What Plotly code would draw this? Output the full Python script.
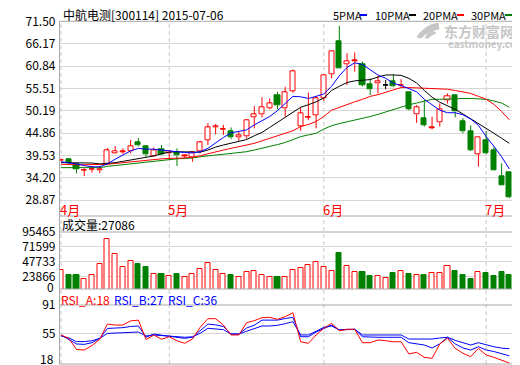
import plotly.graph_objects as go

# ---------------- data ----------------
title_text = "中航电测[300114] 2015-07-06"
month_labels = ["4月", "5月", "6月", "7月"]
month_start = [0, 14, 34, 55]
legend_labels = ["5PMA", "10PMA", "20PMA", "30PMA"]

opens = [38.30, 38.59, 37.40, 35.95, 36.15, 36.00, 37.47, 40.02, 40.35, 40.40,
         42.70, 41.60, 39.40, 40.98, 40.00, 40.25, 39.33, 39.07, 40.40, 43.20,
         46.30, 45.70, 45.17, 43.80, 44.00, 48.60, 49.30, 50.75, 53.85, 50.75,
         54.88, 46.53, 48.55, 49.15, 53.14, 58.86, 66.80, 61.25, 62.05, 61.30,
         56.55, 56.70, 56.30, 57.10, 56.25, 54.47, 49.30, 48.37, 46.08, 47.40,
         52.70, 53.90, 47.70, 45.30, 39.85, 43.20, 40.64, 34.60, 35.50]
highs = [38.65, 38.80, 37.63, 36.45, 37.06, 37.00, 41.28, 41.76, 41.20, 43.20,
         43.67, 42.00, 41.40, 42.00, 40.80, 41.20, 39.70, 40.40, 43.00, 47.20,
         47.00, 46.80, 46.20, 45.10, 48.20, 51.30, 53.40, 53.10, 54.70, 55.90,
         60.00, 51.00, 54.50, 53.70, 58.80, 64.30, 70.40, 63.90, 64.10, 61.90,
         57.90, 58.45, 57.50, 58.90, 57.70, 54.50, 51.50, 52.70, 48.75, 51.90,
         54.30, 53.95, 48.40, 46.70, 43.80, 45.30, 41.60, 37.60, 35.50]
lows = [38.15, 37.20, 35.25, 34.60, 35.40, 35.30, 37.20, 39.97, 39.85, 40.02,
        41.60, 39.20, 39.20, 39.60, 38.60, 37.00, 38.90, 38.00, 40.00, 42.00,
        44.55, 44.40, 43.40, 43.00, 43.50, 46.00, 48.60, 50.50, 50.50, 48.75,
        54.50, 45.40, 47.90, 46.00, 52.50, 57.90, 60.30, 56.30, 59.50, 56.00,
        53.90, 54.30, 55.30, 55.75, 55.75, 50.30, 47.30, 46.40, 45.75, 46.40,
        51.90, 48.60, 44.80, 40.55, 36.83, 39.80, 36.00, 32.46, 29.30]
closes = [38.45, 37.63, 36.20, 36.05, 36.25, 36.30, 40.73, 40.57, 40.45, 41.76,
          41.83, 39.78, 40.70, 39.85, 40.50, 39.45, 39.43, 40.25, 42.65, 46.22,
          46.50, 45.80, 43.83, 44.20, 47.96, 49.30, 51.10, 51.94, 51.53, 54.64,
          59.65, 49.56, 48.65, 53.14, 58.70, 64.25, 60.30, 62.00, 62.15, 56.30,
          55.30, 57.20, 56.30, 55.90, 56.35, 50.60, 51.10, 46.80, 46.18, 50.50,
          53.70, 49.94, 45.17, 40.80, 43.75, 40.02, 36.00, 32.46, 29.53]
volumes = [35300, 26500, 26500, 19700, 26500, 44600, 83500, 60000, 40000, 49300,
           43600, 38900, 27500, 28000, 24400, 28000, 22800, 27500, 36800, 46200,
           35300, 27500, 26500, 22800, 32000, 33700, 26000, 22800, 23300, 22800,
           35300, 38400, 43100, 47700, 40000, 33700, 62300, 41500, 32200, 32200,
           24900, 24400, 21300, 29600, 33700, 28000, 26000, 26000, 29100, 29100,
           41500, 33700, 26000, 19700, 32200, 29600, 24900, 31100, 27086]
ma5 = [38.0, 37.8, 37.5, 37.1, 36.8, 36.8, 37.5, 38.6, 39.6, 40.6,
       41.2, 41.0, 41.0, 40.8, 40.5, 40.4, 40.2, 40.1, 40.4, 41.2,
       42.6, 43.8, 44.9, 45.3, 45.6, 46.8, 47.8, 48.8, 50.2, 51.8,
       53.6, 53.5, 53.1, 53.6, 54.2, 56.0, 58.5, 60.5, 61.6, 61.2,
       59.9, 58.7, 57.9, 56.7, 56.2, 55.4, 54.7, 52.9, 51.7, 50.3,
       49.7, 49.7, 49.2, 48.2, 46.7, 44.0, 41.7, 39.2, 36.3]
ma10 = [37.8, 37.8, 37.8, 37.8, 37.7, 37.5, 37.6, 37.8, 38.1, 38.4,
        38.7, 39.0, 39.4, 39.9, 40.3, 40.4, 40.4, 40.3, 40.3, 40.8,
        41.5, 42.0, 42.4, 42.8, 43.3, 44.2, 45.0, 46.2, 47.4, 48.8,
        49.9, 51.0, 51.6, 52.3, 53.2, 55.0, 56.0, 56.9, 57.3, 57.5,
        57.6, 58.2, 58.7, 58.7, 58.6, 57.9, 56.8, 55.0, 53.4, 52.2,
        51.4, 50.5, 49.4, 48.3, 47.2, 46.1, 44.8, 43.6, 42.4]
ma20 = [37.4, 37.3, 37.3, 37.3, 37.3, 37.3, 37.4, 37.6, 37.8, 38.0,
        38.2, 38.4, 38.6, 38.7, 38.8, 38.8, 38.9, 39.1, 39.4, 39.9,
        40.4, 40.8, 41.2, 41.6, 41.9, 42.4, 43.0, 43.6, 44.3, 44.8,
        45.4, 46.4, 46.9, 47.6, 48.8, 50.3, 51.0, 51.6, 52.3, 52.9,
        53.6, 54.0, 54.6, 55.2, 55.7, 55.7, 55.6, 55.5, 55.4, 55.4,
        55.3, 55.0, 54.7, 54.3, 53.6, 52.9, 51.7, 50.0, 48.0]
ma30 = [36.6, 36.6, 36.6, 36.6, 36.6, 36.6, 36.9, 37.1, 37.4, 37.6,
        37.7, 37.9, 38.1, 38.3, 38.6, 38.7, 38.8, 38.9, 39.2, 39.4,
        39.6, 39.8, 40.0, 40.2, 40.4, 40.8, 41.2, 41.6, 42.1, 42.6,
        43.3, 44.0, 44.4, 44.8, 45.8, 46.6, 47.1, 47.5, 47.9, 48.4,
        48.8, 49.3, 49.9, 50.4, 51.0, 51.6, 52.0, 52.5, 52.9, 52.9,
        53.0, 53.1, 53.1, 53.1, 53.0, 52.9, 52.5, 52.0, 51.0]
rsi_a = [53.3, 49.0, 35.0, 34.4, 40.0, 47.8, 67.0, 65.8, 65.8, 71.0,
         72.0, 47.5, 53.3, 48.0, 51.0, 46.0, 42.8, 48.2, 62.9, 73.8,
         73.8, 65.8, 53.3, 53.3, 68.7, 71.3, 75.0, 75.5, 73.0, 76.3,
         81.3, 44.8, 42.8, 53.3, 61.7, 68.0, 58.7, 60.4, 60.4, 43.6,
         43.6, 47.0, 46.1, 44.8, 44.8, 29.4, 31.5, 25.2, 23.9, 42.0,
         49.1, 36.5, 30.2, 26.0, 36.5, 28.1, 25.2, 21.8, 18.0]
rsi_b = [53.3, 48.0, 42.0, 41.5, 43.6, 49.0, 61.5, 62.0, 62.5, 64.0,
         64.6, 50.5, 54.5, 53.0, 52.0, 50.5, 49.1, 50.4, 58.3, 67.0,
         66.0, 64.0, 54.5, 54.5, 62.0, 65.5, 72.0, 72.0, 72.0, 74.0,
         75.5, 51.1, 51.1, 57.0, 61.7, 65.8, 59.6, 60.4, 60.4, 51.1,
         50.4, 50.4, 50.4, 50.4, 50.4, 43.6, 42.0, 40.7, 37.0, 42.0,
         50.4, 42.0, 37.0, 34.4, 38.6, 34.4, 32.5, 30.0, 27.0]
rsi_c = [52.0, 49.5, 45.0, 45.0, 46.0, 49.0, 55.3, 55.6, 56.0, 56.6,
         57.0, 52.0, 53.3, 52.6, 52.0, 51.0, 50.4, 51.0, 55.4, 61.7,
         61.0, 60.0, 54.5, 54.5, 58.0, 61.0, 64.6, 64.6, 65.5, 67.5,
         70.0, 53.3, 53.3, 58.0, 62.9, 64.6, 59.6, 60.4, 60.4, 53.3,
         53.3, 53.3, 53.3, 53.3, 53.3, 48.2, 48.2, 48.2, 48.2, 49.5,
         50.4, 46.5, 43.5, 40.7, 43.6, 40.7, 38.5, 36.8, 36.0]
price_ticks = [28.87, 34.20, 39.53, 44.86, 50.19, 55.51, 60.84, 66.17, 71.50]
volume_ticks = [23866, 47733, 71599, 95465]
rsi_ticks = [55, 91]

# ---------------- styling helpers ----------------
# the page body has an 8px margin, so the figure is drawn 8px smaller and
# all layout positions below are given in window pixels minus that offset
OFF = 8
W, H = 520 - OFF, 365 - OFF
RED, GREEN, BLUE, BLACK = "#ff0000", "#008000", "#0000ff", "#000000"
GRID, FRAME = "#d6d6d6", "#a8a8a8"
FONT = "Noto Sans CJK SC"
WM = "#c6c6c6"


def px(x):
    return (x - OFF) / W


def py(y):
    return 1 - (y - OFF) / H


n = len(closes)
xs = list(range(n))
kind = ["up" if c > o else ("down" if c < o else "flat") for o, c in zip(opens, closes)]
kcol = {"up": RED, "down": GREEN, "flat": BLACK}
kfill = {"up": "#ffffff", "down": GREEN, "flat": BLACK}

fig = go.Figure()

# candle bodies
for k in ["up", "down", "flat"]:
    idx = [i for i in xs if kind[i] == k]
    if not idx:
        continue
    fig.add_bar(x=idx, y=[abs(closes[i] - opens[i]) for i in idx],
                base=[min(opens[i], closes[i]) for i in idx], width=0.66,
                marker=dict(color=kfill[k], line=dict(color=kcol[k], width=1)),
                xaxis="x", yaxis="y", hoverinfo="skip")

# wicks (upper and lower parts) + doji bars
for k in ["up", "down", "flat"]:
    wx, wy = [], []
    for i in xs:
        if kind[i] != k:
            continue
        top, bot = max(opens[i], closes[i]), min(opens[i], closes[i])
        wx += [i, i, None, i, i, None]
        wy += [highs[i], top, None, bot, lows[i], None]
        if top - bot < 0.2:
            wx += [i - 0.33, i + 0.33, None]
            wy += [closes[i], closes[i], None]
    if wx:
        fig.add_scatter(x=wx, y=wy, mode="lines", line=dict(color=kcol[k], width=1),
                        xaxis="x", yaxis="y", hoverinfo="skip")

# moving averages
for arr, c in [(ma30, GREEN), (ma20, RED), (ma10, BLACK), (ma5, BLUE)]:
    fig.add_scatter(x=xs, y=arr, mode="lines", line=dict(color=c, width=1),
                    xaxis="x", yaxis="y", hoverinfo="skip")

# volume
for k in ["up", "down"]:
    idx = [i for i in xs if (kind[i] == "down") == (k == "down")]
    fig.add_bar(x=idx, y=[volumes[i] for i in idx], width=0.66,
                marker=dict(color=kfill[k], line=dict(color=kcol[k], width=1)),
                xaxis="x", yaxis="y2", hoverinfo="skip")

# RSI
for arr, c in [(rsi_c, BLUE), (rsi_b, BLUE), (rsi_a, RED)]:
    fig.add_scatter(x=xs, y=arr, mode="lines", line=dict(color=c, width=1),
                    xaxis="x", yaxis="y3", hoverinfo="skip")

tickfont = dict(family=FONT, size=12, color=BLACK)
common_y = dict(showgrid=True, gridcolor=GRID, gridwidth=1, zeroline=False,
                ticks="", tickfont=tickfont, anchor="x", showline=False,
                ticklabelstandoff=3, automargin=False)

fig.update_layout(
    width=W, height=H, margin=dict(l=0, r=0, t=0, b=0, autoexpand=False),
    paper_bgcolor="white", plot_bgcolor="white", showlegend=False,
    barmode="overlay", bargap=0,
    xaxis=dict(domain=[px(59.5), px(519)], range=[-0.2, 59.25], showgrid=False,
               zeroline=False, showticklabels=False, ticks="", showline=False,
               automargin=False),
    yaxis=dict(domain=[py(216), py(21.3)], range=[25.07, 71.5],
               tickvals=price_ticks, ticktext=[f"{v:.2f}" for v in price_ticks], **common_y),
    yaxis2=dict(domain=[py(289), py(232)], range=[4200, 95465],
                tickvals=volume_ticks, ticktext=[str(v) for v in volume_ticks], **common_y),
    yaxis3=dict(domain=[py(364), py(305)], range=[16.8, 91],
                tickvals=rsi_ticks, ticktext=[str(v) for v in rsi_ticks], **common_y),
)


def ppath(points):
    """SVG path in paper coordinates from window-pixel points."""
    cmds = []
    for cmd, pts in points:
        cmds.append(cmd + " ".join(f"{px(x):.4f},{py(y):.4f}" for x, y in pts))
    return " ".join(cmds) + " Z"


shapes = []
# month dashed lines
for m in month_start:
    shapes.append(dict(type="line", xref="x", yref="paper", x0=m, x1=m,
                       y0=py(364), y1=py(21.3), layer="below",
                       line=dict(color="#c8c8c8", width=1, dash="4px,3px")))
# frame
for y in [21.3, 216, 232, 289, 305, 364]:
    shapes.append(dict(type="line", xref="paper", yref="paper", x0=px(59.5), x1=px(519),
                       y0=py(y), y1=py(y), line=dict(color=FRAME, width=1)))
for x in [59.5, 519]:
    shapes.append(dict(type="line", xref="paper", yref="paper", x0=px(x), x1=px(x),
                       y0=py(364), y1=py(21.3), line=dict(color=FRAME, width=1)))
# legend swatches
for (x0, x1), c in zip([(360, 367), (409, 416), (457, 464), (505, 512)],
                       [BLUE, BLACK, RED, GREEN]):
    shapes.append(dict(type="line", xref="paper", yref="paper", x0=px(x0), x1=px(x1),
                       y0=py(15), y1=py(15), line=dict(color=c, width=2)))
# watermark swoosh logo
shapes.append(dict(type="path", xref="paper", yref="paper", layer="below",
                   path=ppath([("M", [(438, 23)]), ("Q", [(425, 25), (417, 37)]),
                               ("L", [(421, 38)]), ("Q", [(428, 31), (439, 29)])]),
                   fillcolor=WM, line=dict(color=WM, width=1)))
shapes.append(dict(type="path", xref="paper", yref="paper", layer="below",
                   path=ppath([("M", [(432, 31)]), ("Q", [(428, 33), (425, 38)]),
                               ("L", [(428, 38)]), ("Q", [(431, 35), (436, 33)])]),
                   fillcolor=WM, line=dict(color=WM, width=1)))
fig.update_layout(shapes=shapes)

ann = []


def text(x, y, s, color=BLACK, size=12, xanchor="left", xref="paper", xshift=0, **kw):
    ann.append(dict(x=x, y=y, xref=xref, yref="paper", text=s, showarrow=False,
                    xanchor=xanchor, yanchor="middle", xshift=xshift,
                    font=dict(family=FONT, size=size, color=color), **kw))


text(px(61), py(14), title_text)
for lbl, xl in zip(legend_labels, [331, 373, 421, 469]):
    text(px(xl), py(14.5), lbl, size=11)
# watermark
text(px(442), py(31), "<b>东方财富网</b>", color=WM, size=14)
text(px(446), py(43.5), "<b>eastmoney.com</b>", color=WM, size=10)
# month labels
for m, lbl in zip(month_start, month_labels):
    text(m, py(209), lbl, color=RED, size=13, xref="x", xshift=-3)
# panel captions
text(px(60), py(225), f"成交量:{volumes[-1]}")
text(px(59), py(299.5), f"RSI_A:{rsi_a[-1]:.0f}", color=RED)
text(px(112), py(299.5), f"RSI_B:{rsi_b[-1]:.0f}", color=BLUE)
text(px(166), py(299.5), f"RSI_C:{rsi_c[-1]:.0f}", color=BLUE)
# bottom labels of lower panels
text(px(56), py(286), "0", xanchor="right")
text(px(56), py(358), "18", xanchor="right")
fig.update_layout(annotations=ann)

fig.write_html("out.html")
